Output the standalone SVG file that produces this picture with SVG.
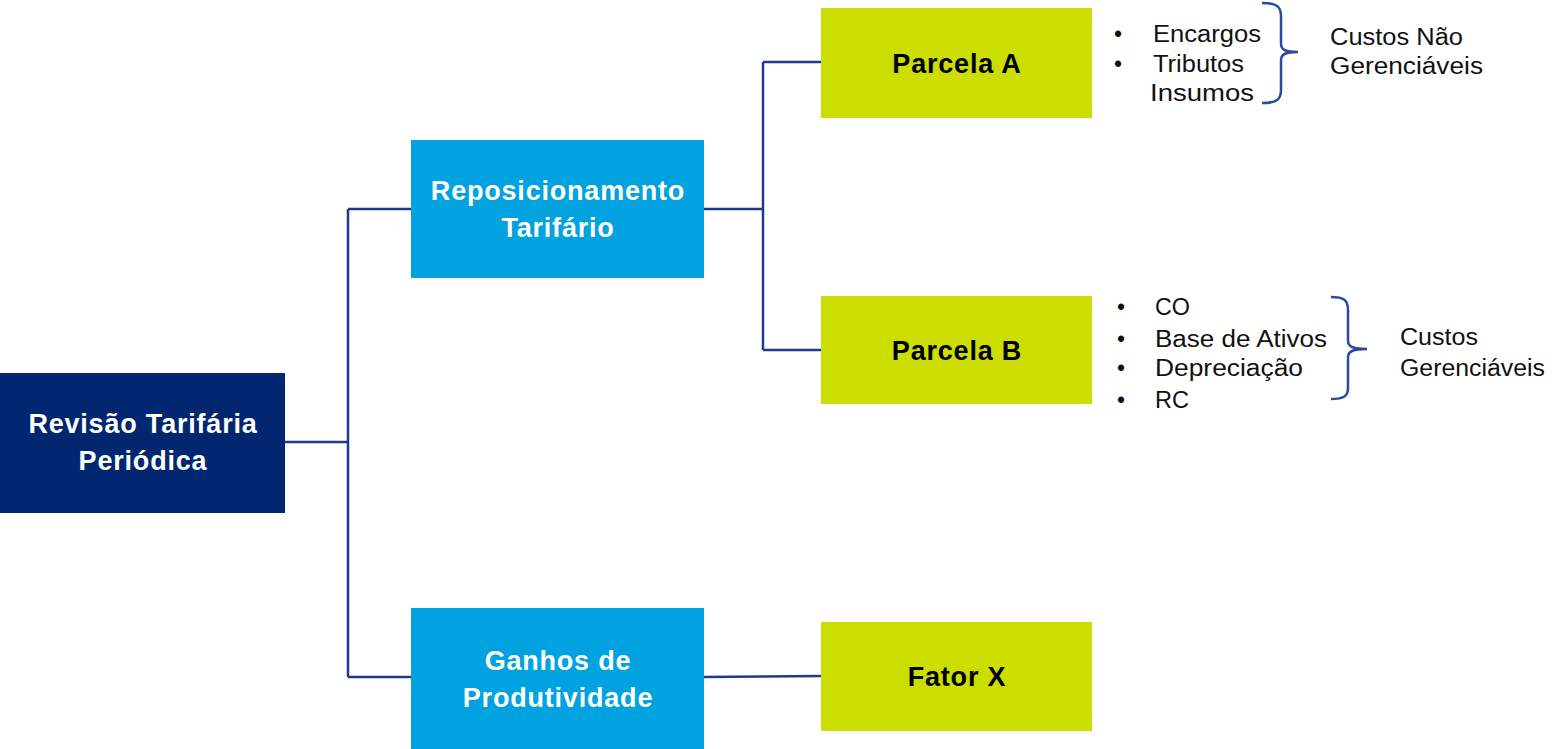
<svg xmlns="http://www.w3.org/2000/svg" width="1555" height="749" viewBox="0 0 1555 749">
  <style>
    .navy { fill: #00276F; }
    .blue { fill: #00A2DF; }
    .lime { fill: #CCDD00; }
    .bt { font-family: "Liberation Sans", Arial, sans-serif; font-weight: bold; font-size: 27px; letter-spacing: 0.8px; text-anchor: middle; }
    .w { fill: #FFFFFF; }
    .k { fill: #000000; }
    .lt { font-family: "Liberation Sans", Arial, sans-serif; font-size: 23px; fill: #111111; }
    .bul { font-family: "Liberation Sans", Arial, sans-serif; font-size: 23px; fill: #111111; text-anchor: middle; }
    .conn { fill: none; stroke: #1E3A8A; stroke-width: 2.5; }
    .brace { fill: none; stroke: #2A4A9E; stroke-width: 2.5; }
  </style>
  <rect width="1555" height="749" fill="#FFFFFF"/>

  <g id="connectors">
    <path class="conn" d="M285,442 H348 M348,209 V677 M348,209 H411 M348,677 H411"/>
    <path class="conn" d="M704,209 H763 M763,62 V350 M763,62 H821 M763,350 H821"/>
    <path class="conn" d="M704,677 L821,676"/>
  </g>

  <g id="node-revisao">
    <rect class="navy" x="0" y="373" width="285" height="140"/>
    <text class="bt w" x="143" y="433">Revisão Tarifária</text>
    <text class="bt w" x="143" y="470">Periódica</text>
  </g>

  <g id="node-reposicionamento">
    <rect class="blue" x="411" y="140" width="293" height="138"/>
    <text class="bt w" x="558" y="200">Reposicionamento</text>
    <text class="bt w" x="558" y="237">Tarifário</text>
  </g>

  <g id="node-ganhos">
    <rect class="blue" x="411" y="608" width="293" height="141"/>
    <text class="bt w" x="558" y="670">Ganhos de</text>
    <text class="bt w" x="558" y="707">Produtividade</text>
  </g>

  <g id="node-parcela-a">
    <rect class="lime" x="821" y="8" width="271" height="110"/>
    <text class="bt k" x="957" y="73">Parcela A</text>
  </g>

  <g id="node-parcela-b">
    <rect class="lime" x="821" y="296" width="271" height="108"/>
    <text class="bt k" x="957" y="360">Parcela B</text>
  </g>

  <g id="node-fator-x">
    <rect class="lime" x="821" y="622" width="271" height="109"/>
    <text class="bt k" x="957" y="686">Fator X</text>
  </g>

  <g id="notes-parcela-a">
    <text class="bul" x="1118" y="42">•</text>
    <text class="bul" x="1118" y="72">•</text>
    <text class="lt" x="1153" y="42" textLength="108" lengthAdjust="spacingAndGlyphs">Encargos</text>
    <text class="lt" x="1153" y="72" textLength="91" lengthAdjust="spacingAndGlyphs">Tributos</text>
    <text class="lt" x="1150" y="101" font-size="24" textLength="104" lengthAdjust="spacingAndGlyphs">Insumos</text>
    <path class="brace" d="M1262,3 C1276,3 1281,6 1281,16 V44 C1281,50 1286,52 1298,52 C1286,52 1281,54 1281,60 V90 C1281,100 1276,103 1262,103"/>
    <text class="lt" x="1330" y="45" textLength="133" lengthAdjust="spacingAndGlyphs">Custos Não</text>
    <text class="lt" x="1330" y="74" textLength="153" lengthAdjust="spacingAndGlyphs">Gerenciáveis</text>
  </g>

  <g id="notes-parcela-b">
    <text class="bul" x="1121" y="315">•</text>
    <text class="bul" x="1121" y="347">•</text>
    <text class="bul" x="1121" y="376">•</text>
    <text class="bul" x="1121" y="408">•</text>
    <text class="lt" x="1155" y="315" textLength="35" lengthAdjust="spacingAndGlyphs">CO</text>
    <text class="lt" x="1155" y="347" textLength="172" lengthAdjust="spacingAndGlyphs">Base de Ativos</text>
    <text class="lt" x="1155" y="376" textLength="148" lengthAdjust="spacingAndGlyphs">Depreciação</text>
    <text class="lt" x="1155" y="408" textLength="34" lengthAdjust="spacingAndGlyphs">RC</text>
    <path class="brace" d="M1331,297 C1344,297 1348,300 1348,310 V341 C1348,347 1354,349 1367,349 C1354,349 1348,351 1348,357 V388 C1348,396 1344,399 1331,399"/>
    <text class="lt" x="1400" y="345" textLength="78" lengthAdjust="spacingAndGlyphs">Custos</text>
    <text class="lt" x="1400" y="376" textLength="145" lengthAdjust="spacingAndGlyphs">Gerenciáveis</text>
  </g>
</svg>
